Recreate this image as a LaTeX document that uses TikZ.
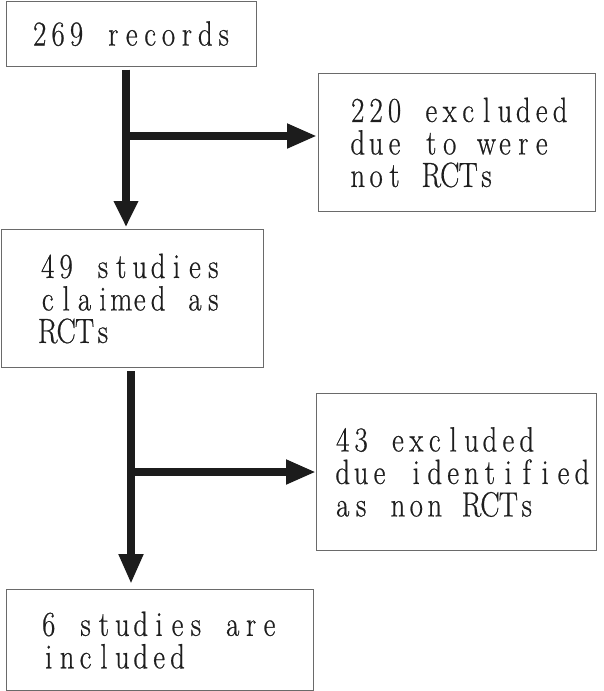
\documentclass[tikz,border=0pt]{standalone}
\usepackage{fontspec}
\newfontfamily\boxfont[FakeStretch=0.82,FakeBold=0.6]{Latin Modern Roman}
\usetikzlibrary{arrows.meta}
\newlength\cellw
\setlength\cellw{18.4pt}
\def\mwloop#1{\ifx#1\relax\else\makebox[\cellw]{#1}\expandafter\mwloop\fi}
\newcommand\mw[1]{\mwloop#1\relax}
\definecolor{ink}{HTML}{1C1C1C}
\definecolor{frame}{HTML}{6A6A6A}
\definecolor{txt}{HTML}{1E1E1E}
\tikzset{
  boxnode/.style={draw=frame, line width=1.1pt, anchor=north west, align=left,
    text=txt, font=\boxfont\fontsize{35pt}{32.5pt}\selectfont, inner ysep=0pt},
  flowarrow/.style={draw=ink, line width=8pt, -{Triangle[length=30pt,width=23pt]}, ink},
}
\begin{document}
\begin{tikzpicture}[x=1pt,y=-1pt]
\useasboundingbox (0,0) rectangle (603,691);
% boxes
\node[boxnode, minimum width=250pt, minimum height=65pt, inner xsep=24pt, text width=202pt] (b1) at (6,0.6) {\mw{269~records}};
\node[boxnode, minimum width=277pt, minimum height=138pt, inner xsep=30pt, text width=217pt] (b2) at (318,73) {\mw{220~excluded}\\\mw{due~to~were}\\\mw{not~RCTs}};
\node[boxnode, minimum width=262pt, minimum height=138pt, inner xsep=37pt, text width=188pt] (b3) at (1,229) {\mw{49~studies}\\\mw{claimed~as}\\\mw{RCTs}};
\node[boxnode, minimum width=280pt, minimum height=157pt, inner xsep=17pt, text width=246pt] (b4) at (316,393) {\mw{43~excluded}\\\mw{due~identified}\\\mw{as~non~RCTs}};
\node[boxnode, minimum width=307pt, minimum height=101pt, inner xsep=33pt, text width=241pt] (b5) at (6,589) {\mw{6~studies~are}\\\mw{included}};
% connector anchors
\coordinate (a1) at (126,136);
\coordinate (a2) at (131,472);
% arrows
\draw[flowarrow, -{Triangle[length=26pt,width=23pt]}, shorten <=3pt, shorten >=2pt] (b1.south -| a1) -- (b3.north -| a1);
\draw[flowarrow, shorten >=1pt] (a1) -- (b2.west |- a1);
\draw[flowarrow, shorten <=3pt, shorten >=5pt] (b3.south -| a2) -- (b5.north -| a2);
\draw[flowarrow] (a2) -- (b4.west |- a2);
\end{tikzpicture}
\end{document}
